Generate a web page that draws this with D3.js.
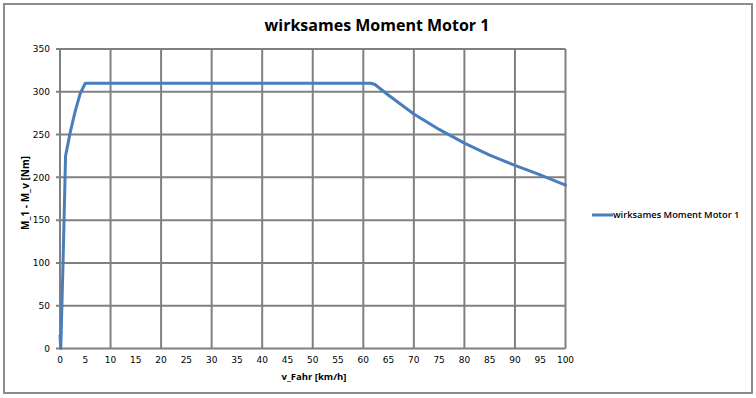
<!DOCTYPE html>
<html>
<head>
<meta charset="utf-8">
<script src="https://cdn.jsdelivr.net/npm/d3@7"></script>
<style>
  body { margin: 0; background: #fff; }
  svg { display: block; }
</style>
</head>
<body>
<svg id="chart"></svg>
<script>
// speed [km/h] and effective torque [Nm]
var speed  = [0, 0.15, 0.6, 1.1, 2, 3, 4, 5, 61.5, 62.3, 65, 70, 75, 80, 85, 90, 95, 100];
var torque = [15, 0, 100, 225, 252, 277, 298, 310, 310, 308.5, 296, 274, 256, 240, 226, 214, 203, 191];

var xTicks = d3.range(0, 101, 5);
var xGrid = d3.range(0, 101, 10);
var yTicks = d3.range(0, 351, 50);

var chartTitle = 'wirksames Moment Motor 1';
var seriesName = 'wirksames Moment Motor 1';
var xTitle = 'v_Fahr [km/h]';
var yTitle = 'M_1 - M_v [Nm]';

var svgWidth = 756, svgHeight = 398;
var margin = { top: 49, right: 190, bottom: 50, left: 60 };
var width = 565.5 - margin.left;
var height = 348.5 - margin.top;

var svg = d3.select('#chart')
    .attr('width', svgWidth)
    .attr('height', svgHeight);

// outer chart border
svg.append('rect')
    .attr('x', 4).attr('y', 4)
    .attr('width', 748).attr('height', 389)
    .attr('fill', '#fff')
    .attr('stroke', '#8c8c8c')
    .attr('stroke-width', 2);

svg.append('text')
    .attr('x', 377)
    .attr('y', 31)
    .attr('text-anchor', 'middle')
    .attr('font-family', 'Open Sans')
    .attr('font-weight', 'bold')
    .attr('font-size', '16px')
    .attr('fill', '#000')
    .text(chartTitle);

var g = svg.append('g')
    .attr('transform', 'translate(' + margin.left + ',' + margin.top + ')');

var x = d3.scaleLinear().domain([0, 100]).range([0, width]);
var y = d3.scaleLinear().domain([0, 350]).range([height, 0]);

var gridColor = '#808080';

// horizontal gridlines (with short tick stubs on the left)
g.append('g')
    .selectAll('line')
    .data(yTicks)
    .enter().append('line')
    .attr('x1', -4)
    .attr('x2', width)
    .attr('y1', (d) => y(d))
    .attr('y2', (d) => y(d))
    .attr('stroke', gridColor)
    .attr('stroke-width', 2);

// vertical gridlines
g.append('g')
    .selectAll('line')
    .data(xGrid)
    .enter().append('line')
    .attr('x1', (d) => x(d))
    .attr('x2', (d) => x(d))
    .attr('y1', 0)
    .attr('y2', height)
    .attr('stroke', gridColor)
    .attr('stroke-width', 2);

// y tick labels
g.append('g')
    .selectAll('text')
    .data(yTicks)
    .enter().append('text')
    .attr('x', -10)
    .attr('y', (d) => y(d))
    .attr('dy', '0.35em')
    .attr('text-anchor', 'end')
    .attr('font-family', 'DejaVu Sans')
    .attr('font-size', '9px')
    .attr('fill', '#000')
    .text((d) => d);

// x tick labels
g.append('g')
    .selectAll('text')
    .data(xTicks)
    .enter().append('text')
    .attr('x', (d) => x(d))
    .attr('y', height + 14)
    .attr('text-anchor', 'middle')
    .attr('font-family', 'DejaVu Sans')
    .attr('font-size', '9px')
    .attr('fill', '#000')
    .text((d) => d);

// axis titles
svg.append('text')
    .attr('x', 314)
    .attr('y', 380)
    .attr('text-anchor', 'middle')
    .attr('font-family', 'Open Sans')
    .attr('font-weight', 'bold')
    .attr('font-size', '9.5px')
    .text(xTitle);

svg.append('text')
    .attr('transform', 'translate(29,193) rotate(-90)')
    .attr('text-anchor', 'middle')
    .attr('font-family', 'Open Sans')
    .attr('font-weight', 'bold')
    .attr('font-size', '10px')
    .text(yTitle);

var data = speed.map((v, i) => ({ v: v, m: torque[i] }));

var line = d3.line()
    .x((d) => x(d.v))
    .y((d) => y(d.m));

g.append('path')
    .datum(data)
    .attr('fill', 'none')
    .attr('stroke', '#4a7ebb')
    .attr('stroke-width', 3)
    .attr('stroke-linejoin', 'round')
    .attr('stroke-linecap', 'round')
    .attr('d', line);

// legend
var legend = svg.append('g').attr('transform', 'translate(592,215)');
legend.append('line')
    .attr('x1', 0).attr('x2', 21)
    .attr('y1', 0).attr('y2', 0)
    .attr('stroke', '#4a7ebb')
    .attr('stroke-width', 3);
legend.append('text')
    .attr('x', 21)
    .attr('y', 0)
    .attr('dy', '0.35em')
    .attr('font-family', 'Open Sans')
    .attr('font-weight', 600)
    .attr('font-size', '9.3px')
    .text(seriesName);
</script>
</body>
</html>
